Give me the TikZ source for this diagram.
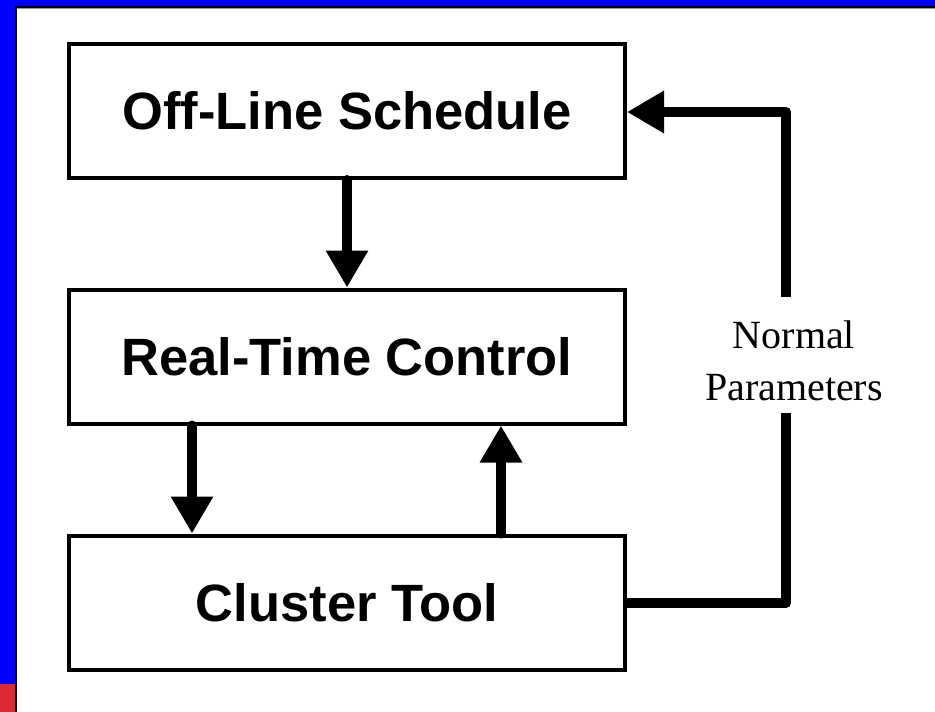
\documentclass[tikz,border=0pt]{standalone}
\usepackage{fontspec}
\setmainfont{Liberation Serif}
\newfontfamily\arialbold[BoldFont={Liberation Sans Bold}]{Liberation Sans}
\usetikzlibrary{arrows.meta}
\definecolor{frameblue}{RGB}{0,0,255}
\definecolor{framered}{RGB}{221,41,49}
\definecolor{frameline}{RGB}{150,150,150}
\tikzset{
  stagebox/.style={draw=black, line width=4pt, minimum width=556pt, minimum height=134pt, inner sep=0pt,
    font=\arialbold\bfseries\fontsize{52.5}{60}\selectfont},
  flowline/.style={line width=10pt, line cap=round, line join=round},
  flow/.style={flowline, -{Triangle[width=40pt,length=37pt]}},
  lbl/.style={align=center, inner sep=0pt, font=\fontsize{40}{52}\selectfont}
}
\begin{document}
\begin{tikzpicture}[x=1pt,y=-1pt]
\useasboundingbox (0,0) rectangle (935,712);
\fill[white] (0,0) rectangle (935,712);
% frame
\fill[frameblue] (0,0) rectangle (935,6);
\fill[frameblue] (0,0) rectangle (15,712);
\fill[framered] (0,684) rectangle (15,712);
\fill[black] (15,6) rectangle (935,8);
\fill[black] (15,6) rectangle (17,712);
\fill[frameline] (17,8) rectangle (935,9);
% boxes
\node[stagebox] (ot) at (347,111) {Off-Line Schedule};
\node[stagebox] (rt) at (347,356.5) {Real-Time Control};
\node[stagebox] (ct) at (347,602.5) {Cluster Tool};
% arrows
\draw[flow] (ot.south) -- (rt.north);
\draw[flow] (rt.south -| 192,0) -- (ct.north -| 192,0);
\draw[flow] (ct.north -| 501,0) -- (rt.south -| 501,0);
% feedback
\node[lbl] (np) at (794,361) {Normal\\Parameters};
\coordinate (fr) at (786,603);
\coordinate (tr) at (786,112);
\coordinate (gb) at (786,413);
\coordinate (gt) at (786,297);
\draw[flowline, line cap=butt] (ct.east |- fr) -- (fr) -- (gb);
\draw[flow, line cap=butt] (gt) -- (tr) -- (ot.east |- tr);
\end{tikzpicture}
\end{document}
